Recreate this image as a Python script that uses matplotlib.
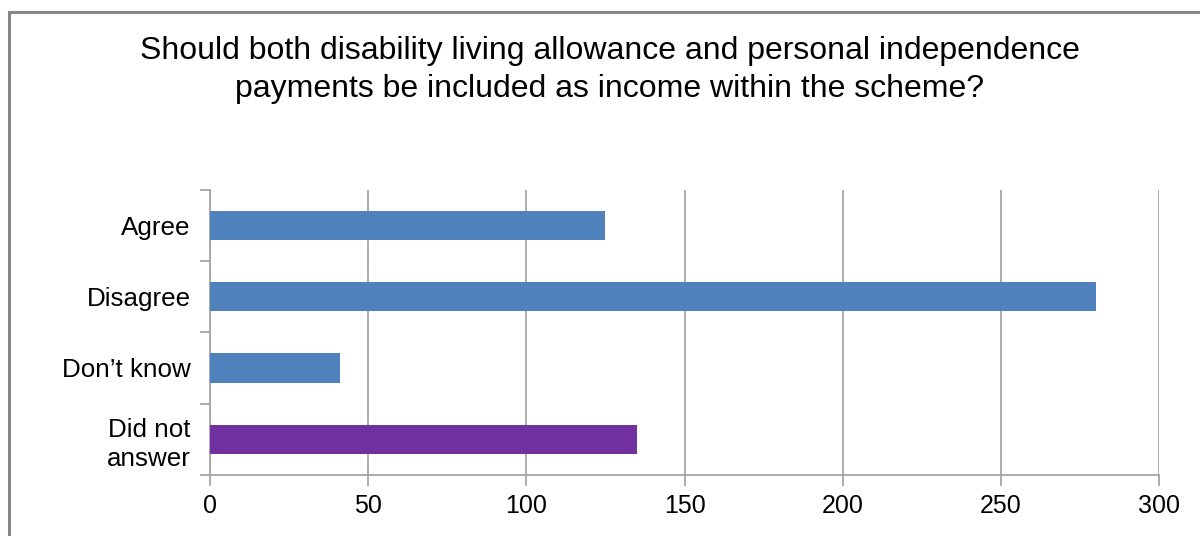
import matplotlib

matplotlib.use("Agg")
import matplotlib.pyplot as plt
from matplotlib.patches import Rectangle

plt.rcParams["font.family"] = ["Liberation Sans", "DejaVu Sans"]

TITLE = ("Should both disability living allowance and personal independence\n"
         "payments be included as income within the scheme?")
categories = ["Agree", "Disagree", "Don\u2019t know", "Did not\nanswer"]
counts = [125, 280, 41, 135]
bar_colors = ["#4F81BD", "#4F81BD", "#4F81BD", "#7030A0"]
x_ticks = [0, 50, 100, 150, 200, 250, 300]

GRID = "#A6A6A6"

fig = plt.figure(figsize=(12, 5.36), dpi=100)

# chart frame (only top and left edges fall inside the image)
fig.patches.append(Rectangle((9 / 1200, -0.1), 1.2, 1 - 12 / 536 + 0.1,
                             transform=fig.transFigure, fill=False,
                             edgecolor="#878787", linewidth=2.2))

ax = fig.add_axes([210 / 1200, 1 - 474.7 / 536, 949 / 1200, 284.7 / 536])

pos = list(range(len(categories)))
ax.barh(pos, counts, height=0.41, color=bar_colors, zorder=3)
ax.set_ylim(len(categories) - 0.5, -0.5)
ax.set_xlim(0, 300)

ax.set_xticks(x_ticks)
ax.set_xticklabels([str(t) for t in x_ticks], fontsize=18)
ax.grid(axis="x", color=GRID, linewidth=1.3, zorder=0)

ax.set_yticks([p + 0.5 for p in pos[:-1]] + [-0.5, len(pos) - 0.5])
ax.set_yticklabels([])
ax.set_yticks(pos, minor=True)
ax.set_yticklabels(categories, minor=True, fontsize=18.7, ha="right",
                   multialignment="right", linespacing=1.3)

ax.tick_params(axis="y", which="major", length=7, color=GRID, width=1.3)
ax.tick_params(axis="y", which="minor", length=0, pad=14)
ax.tick_params(axis="x", length=8, color=GRID, width=1.3, pad=6)

for side in ("top", "right"):
    ax.spines[side].set_visible(False)
for side in ("left", "bottom"):
    ax.spines[side].set_color(GRID)
    ax.spines[side].set_linewidth(1.3)

fig.text(610 / 1200, 1 - 70 / 536, TITLE, ha="center", va="center",
         fontsize=23, linespacing=1.32)

fig.savefig("out.png", dpi=100)
plt.close(fig)
